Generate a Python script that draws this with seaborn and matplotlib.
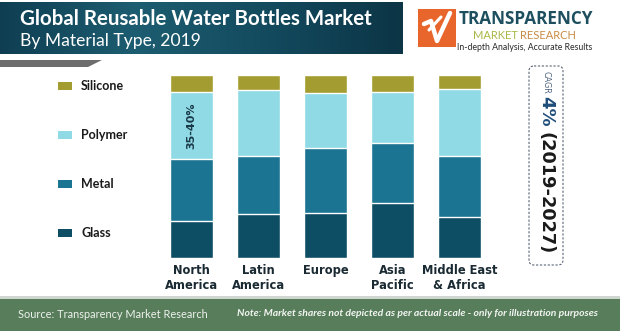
import numpy as np
import pandas as pd
import matplotlib
matplotlib.use("Agg")
import matplotlib.pyplot as plt
import seaborn as sns
from matplotlib.patches import Rectangle, FancyBboxPatch, Polygon

# ---------------- data ----------------
regions = ["North\nAmerica", "Latin\nAmerica", "Europe", "Asia\nPacific", "Middle East\n& Africa"]
materials = ["Silicone", "Polymer", "Metal", "Glass"]
glass = [20.0, 23.8, 24.7, 29.8, 22.2]
metal = [33.8, 32.0, 35.5, 33.1, 33.6]
polymer = [36.6, 35.8, 29.7, 27.5, 36.4]
silicone = [9.6, 8.4, 10.1, 9.6, 7.8]
annotation = "35-40%"
title = "Global Reusable Water Bottles Market"
subtitle = "By Material Type, 2019"
cagr_parts = ["CAGR", "4%", "(2019-2027)"]
source_text = "Source: Transparency Market Research"
note_text = "Note: Market shares not depicted as per actual scale - only for illustration purposes"

palette = {"Silicone": "#a39c30", "Polymer": "#8fdae4", "Metal": "#1b7491", "Glass": "#0e4e64"}

sns.set_theme(style="white")
plt.rcParams["font.family"] = ["DejaVu Sans"]

W, H = 620, 331
fig = plt.figure(figsize=(W / 100, H / 100), dpi=100)
fig.patch.set_facecolor("white")

# background / decoration axes in pixel coordinates
bg = fig.add_axes([0, 0, 1, 1], zorder=0)
bg.set_xlim(0, W)
bg.set_ylim(H, 0)
bg.axis("off")

# title banner with gradient
grad = np.linspace(0, 1, 256)
cmap = matplotlib.colors.LinearSegmentedColormap.from_list(
    "ban", ["#0f3e52", "#1d5d71", "#134a5e", "#0c3546"])
bg.imshow(grad[None, :], aspect="auto", cmap=cmap, extent=(0, 403, 54, 2), zorder=1)
bg.add_patch(Polygon([(0, 60), (102, 60), (88, 67), (0, 67)], closed=True,
                     facecolor="#6d6d6d", edgecolor="none", zorder=1))
bg.text(20, 19, title, color="white", fontsize=14.8, fontweight="bold",
        family="Lato", va="center", ha="left", zorder=2)
bg.text(20, 41, subtitle, color="white", fontsize=12.6,
        family="Lato", va="center", ha="left", zorder=2)

# logo
bg.add_patch(Rectangle((418, 9), 38, 38, facecolor="#e8662c", edgecolor="none", zorder=1))
bg.plot([424, 431, 437, 450], [24, 21, 41, 13], color="white", lw=3.2,
        solid_capstyle="round", solid_joinstyle="round", zorder=2)
bg.plot([429, 441], [30, 17], color="white", lw=2.2, solid_capstyle="round", zorder=2)
bg.text(525.5, 19, "TRANSPARENCY", color="#1d4f5e", fontsize=12.3, fontweight="bold",
        family="Open Sans", ha="center", va="center", zorder=2)
bg.text(495, 35.5, "MARKET", color="#a9b845", fontsize=8, family="Lato",
        ha="center", va="center", zorder=2)
bg.text(548, 35.5, "RESEARCH", color="#c98a45", fontsize=8, family="Lato",
        ha="center", va="center", zorder=2)
bg.text(525, 48, "In-depth Analysis, Accurate Results", color="#2a2a2a", fontsize=6.3,
        family="Lato", ha="center", va="center", zorder=2)

# legend
leg_y = [85.7, 135, 184, 232.7]
for m, y in zip(materials, leg_y):
    bg.add_patch(Rectangle((58, y - 4), 14, 8, facecolor=palette[m], edgecolor="none", zorder=2))
    bg.text(81, y, m, color="#1a1a1a", fontsize=9, fontweight="bold", family="Lato",
            ha="left", va="center", zorder=2)

# CAGR box
bg.add_patch(FancyBboxPatch((529, 66), 34, 199, boxstyle="round,pad=0,rounding_size=5",
                            facecolor="none", edgecolor="#5a6577", lw=0.8,
                            linestyle=(0, (2, 1.5)), zorder=2))
bg.text(546, 82.5, cagr_parts[0], color="#50657f", fontsize=5.8, rotation=270,
        ha="center", va="center", zorder=3)
bg.text(546, 111, cagr_parts[1], color="#1f4d7a", fontsize=13, fontweight="bold",
        rotation=270, ha="center", va="center", zorder=3)
bg.text(546, 193, cagr_parts[2], color="#1a1a1a", fontsize=12.8, fontweight="bold",
        rotation=270, ha="center", va="center", zorder=3)

# footer
bg.add_patch(Rectangle((0, 296), W, 2.5, facecolor="#cfd6cf", edgecolor="none", zorder=1))
bg.add_patch(Rectangle((0, 298.5), W, 33, facecolor="#587d5a", edgecolor="none", zorder=1))
bg.text(18, 314, source_text, color="#eef2ee", fontsize=7.9, family="Lato",
        ha="left", va="center", zorder=2)
bg.text(237, 314, note_text, color="#f2f5f2", fontsize=7.5, family="Lato",
        style="italic", fontweight="bold", ha="left", va="center", zorder=2)

# ---------------- stacked bars ----------------
ax = fig.add_axes([158 / W, 73 / H, 335 / W, 183.3 / H], zorder=2)
ax.patch.set_alpha(0)
layers = [("Silicone", silicone), ("Polymer", polymer), ("Metal", metal), ("Glass", glass)]
stack = {}
running = np.zeros(len(regions))
for name, vals in reversed(layers):
    running = running + np.array(vals)
    stack[name] = running.copy()
for name, _ in layers:  # draw tallest first
    df = pd.DataFrame({"region": regions, "value": stack[name]})
    sns.barplot(data=df, x="region", y="value", order=regions, color=palette[name],
                saturation=1, width=0.642, edgecolor="white", linewidth=1.0, ax=ax)

ax.set_xlim(-0.5, 4.5)
ax.set_ylim(0, 100)
ax.set_xlabel("")
ax.set_ylabel("")
ax.set_yticks([])
sns.despine(ax=ax, left=True, bottom=True)
ax.tick_params(axis="x", length=0, pad=4, labelsize=8.3, colors="#1a2a33")
for t in ax.get_xticklabels():
    t.set_fontweight("bold")
    t.set_linespacing(1.25)

# annotation in North America polymer segment
na_mid = glass[0] + metal[0] + polymer[0] / 2
ax.text(0, na_mid, annotation, rotation=90, ha="center", va="center",
        fontsize=8, fontweight="bold", color="#1a3848")

fig.savefig("out.png", dpi=100, facecolor="white")
